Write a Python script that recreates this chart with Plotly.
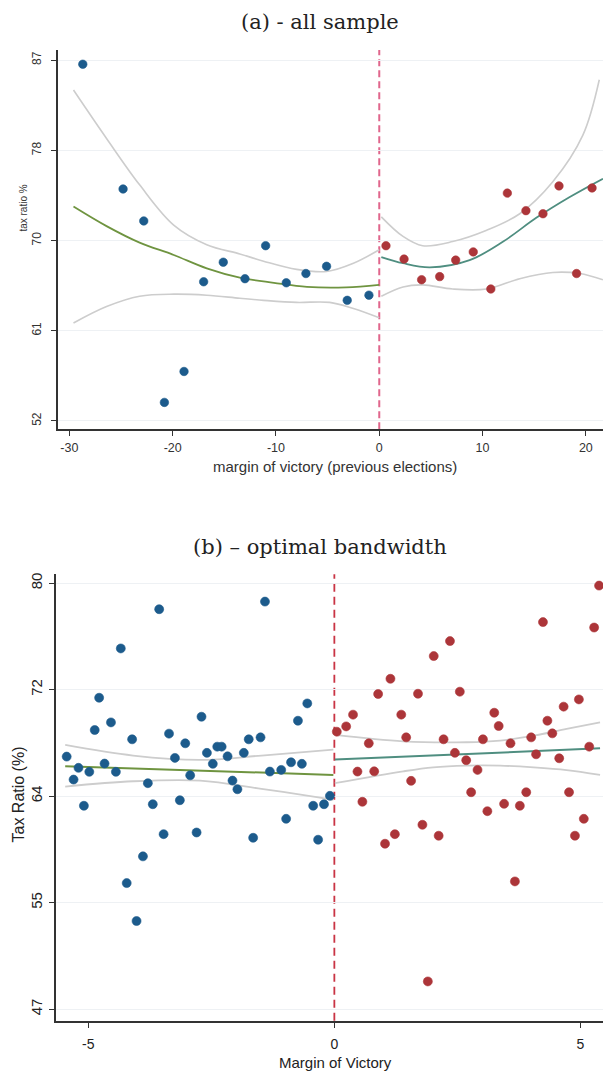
import plotly.graph_objects as go

# ---------------- Panel (a): all sample ----------------
A_BLUE_X = [-28.7, -24.8, -22.8, -20.8, -18.9, -17.0, -15.1, -13.0, -11.0, -9.0, -7.1, -5.1, -3.1, -1.0]
A_BLUE_Y = [87.1, 75.0, 71.9, 54.3, 57.3, 66.0, 67.9, 66.3, 69.5, 65.9, 66.8, 67.5, 64.2, 64.7]
A_RED_X = [0.65, 2.4, 4.1, 5.85, 7.4, 9.1, 10.8, 12.4, 14.2, 15.85, 17.4, 19.1, 20.6]
A_RED_Y = [69.5, 68.2, 66.2, 66.5, 68.1, 68.9, 65.3, 74.6, 72.9, 72.6, 75.3, 66.8, 75.1]

A_FITL_X = [-29.6, -26.4, -23.2, -19.9, -16.7, -13.5, -10.2, -7.0, -3.2, 0.0]
A_FITL_Y = [73.3, 71.4, 69.8, 68.6, 67.3, 66.4, 65.9, 65.5, 65.45, 65.7]
A_CIUL_X = [-29.6, -26.4, -23.2, -19.9, -16.7, -13.5, -11.2, -8.0, -5.1, -2.5, 0.0]
A_CIUL_Y = [84.6, 79.9, 75.4, 71.5, 69.6, 68.7, 68.0, 67.2, 67.0, 67.8, 69.1]
A_CILL_X = [-29.6, -26.4, -23.2, -19.9, -16.7, -13.5, -11.2, -8.0, -4.8, -2.5, 0.0]
A_CILL_Y = [62.0, 63.6, 64.6, 64.8, 64.7, 64.4, 64.2, 64.0, 64.0, 63.4, 62.5]

A_FITR_X = [0.2, 2.3, 4.9, 8.75, 12.0, 15.2, 18.4, 21.65]
A_FITR_Y = [68.4, 67.8, 67.4, 68.1, 69.9, 72.2, 74.2, 76.0]
A_CIUR_X = [0.2, 2.3, 4.2, 7.1, 10.4, 13.6, 16.8, 19.7, 21.3]
A_CIUR_Y = [72.3, 70.4, 69.5, 69.9, 71.0, 72.6, 75.7, 80.2, 85.6]
A_CILR_X = [0.2, 2.3, 4.2, 7.1, 10.4, 13.6, 16.8, 19.4, 21.65]
A_CILR_Y = [64.6, 65.5, 65.7, 65.3, 65.3, 66.3, 66.9, 66.8, 66.2]

A_XTICKS = [-30, -20, -10, 0, 10, 20]
A_YTICKVALS = [52.5, 61.25, 70, 78.75, 87.5]
A_YTICKTEXT = ["52", "61", "70", "78", "87"]

# ---------------- Panel (b): optimal bandwidth ----------------
B_BLUE_X = [-5.44, -5.30, -5.20, -5.09, -4.98, -4.87, -4.78, -4.67, -4.54, -4.44,
            -4.34, -4.22, -4.11, -4.02, -3.89, -3.79, -3.69, -3.56, -3.47, -3.36,
            -3.24, -3.14, -3.03, -2.93, -2.80, -2.70, -2.59, -2.47, -2.38, -2.29,
            -2.17, -2.07, -1.97, -1.84, -1.74, -1.65, -1.50, -1.41, -1.31, -1.08,
            -0.98, -0.88, -0.74, -0.66, -0.55, -0.43, -0.33, -0.21, -0.09]
B_BLUE_Y = [67.07, 65.29, 66.20, 63.26, 65.89, 69.13, 71.63, 66.53, 69.72, 65.89,
            75.45, 57.27, 68.41, 54.33, 59.34, 65.01, 63.38, 78.49, 61.06, 68.85,
            66.97, 63.69, 68.10, 65.62, 61.19, 70.16, 67.36, 66.51, 67.84, 67.84,
            67.09, 65.21, 64.54, 67.36, 68.41, 60.78, 68.56, 79.08, 65.91, 66.04,
            62.25, 66.63, 69.85, 66.51, 71.19, 63.26, 60.63, 63.38, 64.03]
B_RED_X = [0.05, 0.24, 0.38, 0.47, 0.57, 0.70, 0.81, 0.89, 1.03, 1.14,
           1.23, 1.36, 1.46, 1.56, 1.70, 1.79, 1.90, 2.02, 2.12, 2.22,
           2.35, 2.45, 2.55, 2.68, 2.78, 2.91, 3.02, 3.11, 3.25, 3.34,
           3.45, 3.58, 3.67, 3.77, 3.90, 4.00, 4.10, 4.24, 4.33, 4.43,
           4.57, 4.66, 4.77, 4.89, 4.97, 5.07, 5.18, 5.28, 5.38]
B_RED_Y = [69.00, 69.41, 70.32, 65.91, 63.57, 68.10, 65.93, 71.92, 60.32, 73.10,
           61.06, 70.32, 68.56, 65.19, 71.94, 61.79, 49.65, 74.86, 60.94, 68.41,
           76.02, 67.36, 72.10, 66.79, 64.31, 66.04, 68.41, 62.84, 70.47, 69.44,
           63.41, 68.10, 57.40, 63.26, 64.31, 68.56, 67.25, 77.49, 69.85, 68.87,
           66.94, 70.94, 64.31, 60.94, 71.50, 62.25, 67.84, 77.07, 80.32]

B_FITL_X = [-5.47, -0.02]
B_FITL_Y = [66.32, 65.65]
B_CIUL_X = [-5.47, -4.09, -2.73, -1.48, -0.02]
B_CIUL_Y = [67.97, 67.15, 66.81, 67.15, 67.61]
B_CILL_X = [-5.47, -4.09, -2.73, -1.48, -0.26, -0.02]
B_CILL_Y = [64.75, 65.16, 65.21, 64.57, 63.88, 63.72]

B_FITR_X = [0.01, 5.40]
B_FITR_Y = [66.84, 67.71]
B_CIUR_X = [0.01, 1.40, 2.69, 3.37, 4.05, 4.72, 5.40]
B_CIUR_Y = [68.75, 68.25, 68.18, 68.31, 68.69, 69.21, 69.72]
B_CILR_X = [0.01, 1.40, 2.01, 2.69, 3.37, 4.05, 4.72, 5.40]
B_CILR_Y = [65.01, 65.93, 66.24, 66.37, 66.37, 66.24, 66.03, 65.65]

B_XTICKS = [-5, 0, 5]
B_YTICKVALS = [47.5, 55.75, 64, 72.25, 80.5]
B_YTICKTEXT = ["47", "55", "64", "72", "80"]

CUTOFF = 0

# ---------------- styles ----------------
BLUE = "#1c5b8c"
RED = "#ac3539"
GREEN_L = "#6f9440"
GREEN_R = "#4f8e80"
CI = "#cdcdcd"
W, H = 603, 1073

fig = go.Figure()

def pts(x, y, color, xa, ya, size):
    fig.add_trace(go.Scatter(x=x, y=y, mode="markers", xaxis=xa, yaxis=ya,
                             marker=dict(color=color, size=size, line=dict(width=0.6, color=color)),
                             showlegend=False, hoverinfo="skip"))

def curve(x, y, color, width, xa, ya, shape="spline"):
    fig.add_trace(go.Scatter(x=x, y=y, mode="lines", xaxis=xa, yaxis=ya,
                             line=dict(color=color, width=width, shape=shape, smoothing=1.0),
                             showlegend=False, hoverinfo="skip"))

# panel (a)
curve(A_CIUL_X, A_CIUL_Y, CI, 1.6, "x", "y")
curve(A_CILL_X, A_CILL_Y, CI, 1.6, "x", "y")
curve(A_CIUR_X, A_CIUR_Y, CI, 1.6, "x", "y")
curve(A_CILR_X, A_CILR_Y, CI, 1.6, "x", "y")
curve(A_FITL_X, A_FITL_Y, GREEN_L, 1.8, "x", "y")
curve(A_FITR_X, A_FITR_Y, GREEN_R, 1.8, "x", "y")
pts(A_BLUE_X, A_BLUE_Y, BLUE, "x", "y", 8.5)
pts(A_RED_X, A_RED_Y, RED, "x", "y", 8.5)

# panel (b)
curve(B_CIUL_X, B_CIUL_Y, CI, 1.8, "x2", "y2")
curve(B_CILL_X, B_CILL_Y, CI, 1.8, "x2", "y2")
curve(B_CIUR_X, B_CIUR_Y, CI, 1.8, "x2", "y2")
curve(B_CILR_X, B_CILR_Y, CI, 1.8, "x2", "y2")
curve(B_FITL_X, B_FITL_Y, GREEN_L, 2, "x2", "y2", "linear")
curve(B_FITR_X, B_FITR_Y, GREEN_R, 2, "x2", "y2", "linear")
pts(B_BLUE_X, B_BLUE_Y, BLUE, "x2", "y2", 9)
pts(B_RED_X, B_RED_Y, RED, "x2", "y2", 9)

def px_x(p):
    return p / W

def px_y(p):
    return (H - p) / H

axis_common = dict(showline=True, linecolor="#333333", ticks="outside", ticklen=5,
                   tickcolor="#333333", zeroline=False, mirror=False)
SANS = "Liberation Sans, Arial, sans-serif"

fig.update_layout(
    width=W, height=H, margin=dict(l=0, r=0, t=0, b=0),
    paper_bgcolor="white", plot_bgcolor="white", showlegend=False,
    xaxis=dict(domain=[px_x(58), 1.0], range=[-31.1, 21.66], anchor="y",
               tickvals=A_XTICKS, ticktext=[str(v) for v in A_XTICKS],
               showgrid=False, linewidth=1.5, ticklabelstandoff=1,
               tickfont=dict(family=SANS, size=12.5, color="#333"), **axis_common),
    yaxis=dict(domain=[px_y(428), px_y(48)], range=[51.70, 88.49], anchor="x",
               tickvals=A_YTICKVALS, ticktext=A_YTICKTEXT, tickangle=-90,
               showgrid=True, gridcolor="#eef1f4", gridwidth=1, linewidth=1.5,
               ticklabelstandoff=5,
               tickfont=dict(family=SANS, size=12, color="#333"), **axis_common),
    xaxis2=dict(domain=[px_x(56), 1.0], range=[-5.657, 5.46], anchor="y2",
                tickvals=B_XTICKS, ticktext=[str(v) for v in B_XTICKS],
                showgrid=False, linewidth=2, ticklabelstandoff=4,
                tickfont=dict(family=SANS, size=14, color="#222"), **axis_common),
    yaxis2=dict(domain=[px_y(1020.7), px_y(573.3)], range=[46.60, 81.20], anchor="x2",
                tickvals=B_YTICKVALS, ticktext=B_YTICKTEXT, tickangle=-90,
                showgrid=True, gridcolor="#eef1f4", gridwidth=1, linewidth=2,
                ticklabelstandoff=1,
                tickfont=dict(family=SANS, size=15, color="#222"), **axis_common),
)

# cutoff dashed lines
fig.add_shape(type="line", xref="x", yref="y domain", x0=CUTOFF, x1=CUTOFF, y0=0, y1=1,
              line=dict(color="#e0668c", width=2, dash="7px,4px"), layer="below")
fig.add_shape(type="line", xref="x2", yref="y2 domain", x0=CUTOFF, x1=CUTOFF, y0=0, y1=1,
              line=dict(color="#c93444", width=1.8, dash="8px,5px"), layer="below")

SERIF = "DejaVu Serif, serif"
ann = [
    dict(text="(a) - all sample", x=px_x(320), y=px_y(20), font=dict(family=SERIF, size=21, color="#222")),
    dict(text="(b) – optimal bandwidth", x=px_x(320), y=px_y(546), font=dict(family=SERIF, size=21, color="#222")),
    dict(text="margin of victory (previous elections)", x=px_x(335), y=px_y(465),
         font=dict(family=SANS, size=15, color="#333")),
    dict(text="tax ratio %", x=px_x(24), y=px_y(207), textangle=-90,
         font=dict(family=SANS, size=10, color="#333")),
    dict(text="Margin of Victory", x=px_x(335), y=px_y(1062),
         font=dict(family=SANS, size=15, color="#222")),
    dict(text="Tax Ratio (%)", x=px_x(19), y=px_y(794), textangle=-90,
         font=dict(family=SANS, size=16, color="#222")),
]
for a in ann:
    fig.add_annotation(xref="paper", yref="paper", showarrow=False,
                       xanchor="center", yanchor="middle", **a)

fig.write_html("out.html", config={"displayModeBar": False},
               post_script="document.body.style.margin='0';document.body.style.overflow='hidden';")
